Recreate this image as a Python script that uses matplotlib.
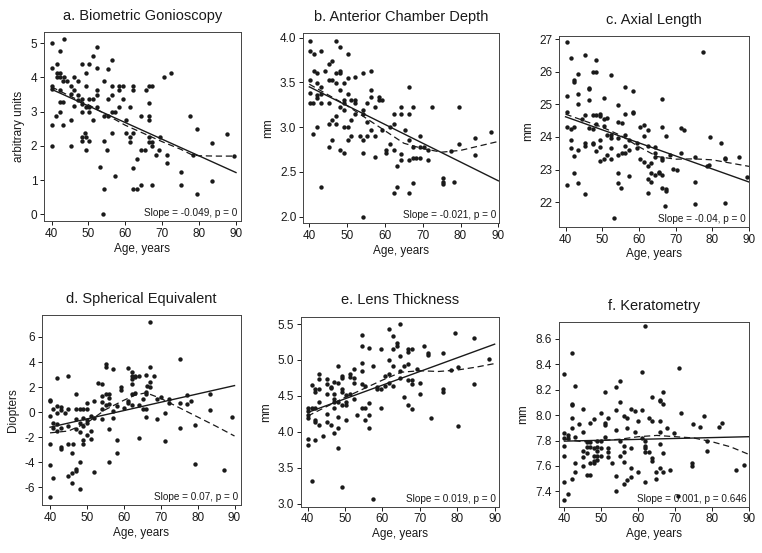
import numpy as np
import matplotlib.pyplot as plt

plt.rcParams['font.family'] = ['Liberation Sans', 'DejaVu Sans']

# ---- a. Biometric Gonioscopy
age_a = [40.2, 40.2, 40.2, 40.2, 40.2, 40.2, 41.4, 41.4, 41.4, 41.2, 42.3, 42.4, 42.3, 42.3, 42.3, 42.3,
         43.3, 43.3, 43.2, 43.2, 43.2, 44.3, 45.2, 45.2, 45.2, 45.2, 46.2, 46.2, 46.2, 47.2, 47.2, 47.3,
         48.2, 48.2, 48.2, 48.2, 48.2, 48.2, 49.2, 49.2, 49.2, 49.0, 49.2, 49.2, 50.2, 50.2, 50.2, 50.2,
         50.2, 51.3, 51.3, 51.3, 52.3, 52.3, 52.3, 52.3, 52.3, 53.2, 54.3, 54.3, 54.3, 54.1, 54.0, 55.4,
         55.4, 55.4, 55.1, 56.3, 56.3, 56.3, 56.3, 56.3, 57.2, 57.2, 58.3, 58.3, 58.3, 59.4, 59.4, 60.2,
         60.2, 61.2, 61.2, 61.2, 62.2, 62.2, 62.2, 62.2, 62.2, 63.1, 63.2, 64.3, 64.3, 64.3, 65.3, 65.5,
         66.3, 66.3, 66.3, 66.3, 66.3, 66.3, 67.3, 67.3, 67.3, 67.3, 68.3, 69.2, 69.4, 70.5, 71.4, 71.4,
         72.5, 77.4, 78.4, 79.4, 75.2, 75.2, 79.3, 83.4, 83.4, 87.5, 89.5]
val_a = [5.0, 4.27, 3.75, 3.65, 2.61, 2.0, 4.4, 4.14, 4.0, 2.88, 4.14, 4.76, 4.0, 3.62, 3.27, 3.0,
         5.13, 4.0, 3.88, 3.27, 2.61, 3.88, 3.75, 3.52, 2.74, 2.0, 4.0, 3.64, 3.15, 3.88, 3.49, 3.34,
         4.4, 3.36, 3.23, 3.0, 2.25, 2.13, 4.14, 3.75, 3.13, 2.37, 2.25, 1.88, 4.4, 3.36, 3.13, 3.0,
         2.13, 4.63, 3.36, 2.74, 4.87, 4.27, 3.62, 3.49, 3.13, 1.37, 3.88, 2.88, 2.13, 0.74, 0.0, 4.24,
         3.36, 2.88, 1.88, 4.5, 3.75, 3.49, 3.0, 2.37, 3.0, 1.12, 3.62, 3.13, 3.75, 3.75, 3.36, 2.74,
         2.37, 3.13, 2.25, 2.12, 3.75, 3.62, 2.37, 1.36, 0.74, 0.74, 1.61, 2.88, 1.87, 0.86, 1.87, 3.62,
         3.75, 3.24, 2.88, 2.74, 2.25, 2.12, 3.75, 2.12, 2.0, 0.86, 1.74, 1.87, 2.25, 4.0, 1.74, 1.49,
         4.12, 2.86, 1.74, 2.49, 1.23, 0.85, 0.6, 2.09, 0.97, 2.34, 1.7]
fit_a = [3.65, 1.22]
smooth_x_a = [40, 45, 50, 55, 60, 65, 70, 75, 78, 80, 85, 90]
smooth_a = [3.72, 3.45, 3.2, 2.9, 2.6, 2.36, 2.12, 1.9, 1.74, 1.71, 1.7, 1.7]

# ---- b. Anterior Chamber Depth
age_b = [40.1, 40.1, 40.1, 40.1, 40.1, 41.0, 41.0, 41.2, 41.2, 42.1, 42.1, 42.1, 42.1, 42.1, 43.2, 43.2,
         43.2, 43.2, 43.0, 44.1, 45.2, 45.2, 45.2, 45.2, 45.2, 46.1, 46.1, 46.1, 46.1, 47.1, 47.1, 47.1,
         47.1, 47.1, 48.2, 48.2, 48.2, 48.2, 48.2, 48.2, 49.1, 49.1, 49.1, 49.1, 49.1, 49.1, 50.2, 50.2,
         50.2, 50.2, 50.2, 51.1, 51.1, 51.1, 52.2, 52.2, 52.2, 52.2, 53.3, 54.3, 54.3, 54.3, 54.3, 54.3,
         54.1, 55.3, 55.3, 55.3, 56.3, 56.3, 56.3, 56.3, 57.3, 57.3, 57.3, 58.3, 58.3, 59.3, 59.3, 60.3,
         60.3, 61.3, 61.3, 62.3, 62.3, 62.3, 62.3, 63.3, 63.3, 64.3, 64.3, 64.3, 64.3, 65.4, 66.3, 66.3,
         66.3, 66.3, 66.3, 67.4, 67.4, 67.4, 67.4, 68.3, 69.3, 69.3, 69.3, 70.3, 71.4, 71.4, 72.5, 75.4,
         75.4, 75.4, 77.6, 78.4, 79.6, 79.6, 83.8, 83.8, 88.0]
val_b = [3.96, 3.85, 3.53, 3.38, 3.27, 3.27, 2.92, 3.82, 3.63, 3.6, 3.49, 3.36, 3.33, 3.0, 3.85, 3.45,
         3.37, 3.27, 2.33, 3.63, 3.71, 3.53, 3.27, 3.04, 2.78, 3.53, 3.74, 3.08, 2.86, 3.96, 3.6, 3.49,
         3.12, 3.04, 3.89, 3.63, 3.6, 3.42, 3.23, 2.74, 3.49, 3.3, 3.27, 3.19, 3.0, 2.71, 3.82, 3.55,
         3.37, 3.0, 2.86, 3.3, 3.08, 2.9, 3.56, 3.3, 3.27, 3.15, 2.9, 3.6, 3.19, 3.15, 2.86, 2.71,
         2.0, 3.27, 3.06, 2.9, 3.63, 3.42, 3.34, 2.97, 3.23, 2.9, 2.67, 3.34, 3.3, 3.3, 2.97, 2.74,
         2.71, 2.81, 3.0, 3.15, 3.04, 2.74, 2.26, 2.56, 2.33, 3.23, 3.15, 2.7, 2.63, 2.97, 3.45, 3.15,
         2.86, 2.63, 2.26, 3.23, 2.78, 2.65, 2.37, 2.65, 2.9, 2.78, 2.65, 2.78, 2.74, 2.63, 3.22, 2.36,
         2.39, 2.43, 2.73, 2.39, 2.81, 3.22, 2.88, 2.69, 2.95]
fit_b = [3.45, 2.40]
smooth_x_b = [40, 45, 50, 55, 60, 65, 70, 75, 80, 85, 90]
smooth_b = [3.48, 3.36, 3.24, 3.1, 2.96, 2.82, 2.76, 2.72, 2.74, 2.79, 2.84]

# ---- c. Axial Length
age_c = [40.5, 40.3, 40.3, 40.3, 40.3, 41.5, 41.5, 41.5, 41.5, 42.4, 42.4, 42.4, 42.4, 42.4, 43.3, 43.3,
         43.3, 43.3, 43.3, 44.4, 45.4, 45.4, 45.4, 45.4, 45.2, 46.4, 46.4, 46.4, 46.4, 47.4, 47.4, 47.4,
         47.4, 47.4, 48.4, 48.4, 48.4, 48.4, 48.4, 49.4, 49.4, 49.4, 49.4, 49.4, 50.4, 50.4, 50.4, 50.4,
         51.4, 51.4, 51.4, 52.4, 52.4, 52.4, 52.4, 52.4, 53.2, 54.3, 54.3, 54.3, 54.3, 54.3, 54.3, 55.4,
         55.4, 55.2, 56.3, 56.3, 56.3, 56.3, 56.3, 57.3, 57.3, 57.2, 58.4, 58.4, 58.4, 59.4, 59.4, 60.4,
         60.4, 61.4, 61.4, 61.4, 62.4, 62.4, 62.4, 62.4, 62.4, 63.4, 63.4, 63.4, 64.4, 64.4, 64.4, 64.4,
         65.4, 65.4, 66.4, 66.4, 66.4, 66.4, 66.4, 66.4, 67.4, 67.4, 67.4, 67.1, 68.4, 69.4, 70.4, 71.4,
         71.4, 72.3, 75.4, 75.4, 75.4, 77.4, 78.5, 79.2, 79.4, 82.4, 83.4, 83.4, 83.4, 87.3, 89.4]
val_c = [26.9, 25.25, 24.76, 24.32, 22.53, 26.43, 24.24, 23.91, 23.66, 25.75, 25.7, 24.32, 23.42, 22.89,
         25.94, 25.32, 25.02, 23.61, 22.6, 24.56, 26.52, 24.68, 23.81, 23.71, 22.25, 25.5, 25.12, 24.27,
         25.47, 25.98, 24.68, 24.24, 23.83, 23.79, 26.37, 25.99, 24.68, 24.4, 23.58, 24.7, 24.63, 23.91,
         23.68, 23.27, 25.19, 24.56, 24.35, 23.32, 24.58, 24.07, 23.45, 25.91, 24.07, 23.98, 23.66, 23.32,
         21.51, 24.99, 24.47, 23.96, 23.45, 22.89, 22.58, 24.44, 23.5, 22.45, 25.53, 24.7, 24.07, 23.71,
         23.5, 23.91, 23.61, 22.79, 25.42, 24.78, 24.73, 23.83, 23.66, 24.32, 23.32, 24.37, 24.03, 23.23,
         24.22, 23.71, 23.11, 22.71, 22.28, 23.19, 22.89, 22.61, 23.68, 23.5, 23.4, 22.84, 22.94, 22.89,
         25.16, 24.32, 23.37, 23.28, 22.84, 22.45, 24.03, 22.4, 22.36, 21.89, 23.45, 23.02, 22.99, 24.28,
         23.5, 24.22, 23.4, 22.63, 21.95, 26.6, 23.11, 23.13, 24.0, 23.83, 23.36, 23.33, 21.99, 23.4, 22.76]
fit_c = [24.62, 22.62]
smooth_x_c = [40, 45, 50, 55, 60, 65, 70, 75, 80, 85, 90]
smooth_c = [24.7, 24.5, 24.3, 24.05, 23.7, 23.4, 23.32, 23.33, 23.3, 23.2, 23.1]

# ---- d. Spherical Equivalent
age_d = [40.0, 40.0, 40.0, 40.0, 40.0, 40.0, 40.9, 40.9, 40.9, 40.9, 42.0, 42.0, 42.0, 42.0, 42.0, 42.9,
         42.9, 42.9, 42.9, 42.9, 44.0, 45.0, 45.0, 45.0, 45.0, 45.0, 45.9, 45.9, 45.9, 46.1, 47.1, 47.1,
         47.1, 47.1, 47.1, 47.1, 48.0, 48.0, 48.0, 48.0, 48.0, 49.0, 49.0, 49.0, 49.0, 49.0, 50.0, 50.0,
         50.0, 50.0, 50.0, 51.0, 51.0, 51.0, 52.0, 52.0, 52.0, 53.1, 54.0, 54.0, 54.0, 54.0, 54.0, 55.1,
         55.1, 55.1, 55.1, 56.1, 56.1, 56.1, 56.1, 56.1, 57.2, 57.2, 57.2, 58.1, 58.1, 58.1, 59.2, 59.2,
         60.1, 61.1, 61.1, 61.1, 62.2, 62.2, 62.2, 62.2, 62.2, 62.2, 63.1, 63.1, 63.1, 64.2, 64.2, 64.2,
         65.2, 65.3, 66.1, 66.1, 66.1, 66.1, 66.1, 66.2, 67.1, 67.1, 67.1, 67.1, 68.1, 69.1, 69.1, 70.2,
         71.2, 71.2, 72.3, 72.3, 75.3, 75.3, 75.3, 77.2, 77.2, 78.2, 79.2, 79.2, 83.3, 83.3, 87.2, 89.4]
val_d = [1.0, 0.88, -0.27, -2.5, -4.18, -6.76, 0.27, -0.85, -1.25, -5.27, 2.74, 0.53, -0.05, -0.98, -1.52,
         0.4, 0.21, -1.25, -2.77, -2.9, -0.05, 2.87, 0.27, -1.12, -2.5, -5.1, -4.84, -5.64, -3.24, -2.5,
         1.41, 0.27, -0.53, -1.38, -4.52, -4.65, 0.27, -0.85, -1.54, -3.99, -6.12, 0.27, -0.45, -2.18,
         -2.5, -1.12, 0.74, 0.27, -0.59, -0.85, -1.78, -0.32, -1.52, -2.1, 0.88, -0.45, -4.8, 2.34, 2.26,
         1.28, 0.8, 0.27, -0.53, 3.88, 3.62, 1.41, 0.61, 1.41, 1.14, 0.66, -1.38, -3.94, 3.48, 0.08,
         -0.45, -3.24, -2.18, 0.48, 1.99, 1.76, 0.35, 3.51, 0.93, 0.74, 3.19, 2.87, 2.61, 2.21, 1.41,
         0.61, 2.87, 2.79, 1.49, 2.87, 0.61, -2.05, 0.27, 1.09, 2.93, 1.6, 1.41, 0.27, -0.4, 2.07, 7.18,
         3.59, 2.39, 1.99, 2.87, -0.53, 1.09, 1.22, -0.05, -2.31, 1.06, 0.74, 4.2, 0.74, -1.3, 1.33,
         0.66, 0.93, -1.06, -4.1, 1.41, 0.16, -4.57, -0.35]
fit_d = [-1.2, 2.12]
smooth_x_d = [40, 45, 50, 55, 60, 63, 66, 70, 75, 80, 85, 90]
smooth_d = [-1.65, -1.5, -0.85, 0.2, 0.95, 1.35, 1.55, 1.1, 0.36, -0.38, -1.12, -1.9]

# ---- e. Lens Thickness
age_e = [40.0, 40.0, 40.0, 40.0, 40.0, 40.0, 41.1, 41.1, 41.1, 42.0, 42.0, 42.0, 42.0, 42.0, 42.0, 43.1,
         43.1, 43.1, 43.1, 43.1, 44.0, 45.2, 45.2, 45.2, 45.2, 45.2, 46.2, 46.2, 46.2, 47.1, 47.1, 47.1,
         47.1, 47.1, 47.1, 48.2, 48.2, 48.2, 48.2, 48.2, 48.2, 49.1, 49.1, 49.1, 49.1, 49.1, 49.1, 50.2,
         50.2, 50.2, 50.2, 51.4, 51.4, 51.4, 52.3, 52.3, 52.3, 52.3, 53.3, 54.4, 54.4, 54.4, 54.4, 54.4,
         54.4, 55.4, 55.4, 55.4, 56.4, 56.4, 56.4, 56.4, 57.5, 57.5, 58.5, 58.5, 59.6, 59.6, 59.6, 60.6,
         60.6, 61.8, 61.8, 61.8, 61.8, 62.7, 62.7, 62.7, 62.7, 63.8, 63.8, 64.7, 64.7, 64.7, 64.7, 65.8,
         65.8, 66.8, 66.8, 66.8, 66.8, 66.8, 67.9, 67.9, 67.9, 67.9, 69.2, 70.0, 70.0, 71.1, 72.1, 72.1,
         73.0, 76.2, 76.2, 76.2, 78.2, 79.4, 80.3, 80.1, 84.5, 84.4, 88.6]
val_e = [4.33, 4.29, 4.24, 4.19, 3.9, 3.82, 4.65, 4.33, 3.31, 4.33, 4.59, 4.55, 4.17, 4.14, 3.89, 4.8,
         4.74, 4.6, 4.41, 4.1, 3.94, 4.73, 4.66, 4.53, 4.25, 4.13, 4.63, 4.61, 4.1, 4.69, 4.53, 4.45,
         4.41, 4.33, 3.98, 4.92, 4.68, 4.41, 4.21, 4.06, 3.77, 4.78, 4.75, 4.59, 4.55, 4.38, 3.23, 4.51,
         4.41, 4.38, 4.17, 4.8, 4.76, 4.53, 4.88, 4.75, 4.68, 4.45, 4.24, 5.35, 5.19, 4.96, 4.84, 4.66,
         4.33, 4.64, 4.33, 4.16, 5.17, 4.4, 4.24, 4.06, 4.92, 3.07, 4.63, 4.6, 5.15, 4.6, 4.33, 4.78,
         4.64, 5.43, 5.0, 4.68, 4.81, 5.34, 5.15, 4.91, 4.64, 5.24, 5.19, 5.5, 5.06, 4.85, 4.75, 4.49,
         4.91, 5.15, 5.11, 4.95, 4.72, 4.37, 5.15, 4.72, 4.67, 4.32, 4.87, 4.68, 4.52, 5.19, 5.1, 5.07,
         4.19, 5.1, 4.6, 4.56, 4.86, 5.38, 4.9, 4.08, 5.3, 4.67, 5.02]
fit_e = [4.27, 5.22]
smooth_x_e = [40, 45, 50, 55, 60, 65, 70, 75, 80, 85, 90]
smooth_e = [4.22, 4.35, 4.48, 4.6, 4.72, 4.83, 4.85, 4.84, 4.86, 4.9, 4.95]

# ---- f. Keratometry
age_f = [40.0, 40.0, 40.0, 40.0, 40.0, 40.0, 39.9, 40.9, 40.9, 40.9, 42.0, 42.0, 42.0, 42.0, 42.0, 42.0,
         42.9, 42.9, 42.9, 42.9, 44.0, 44.9, 44.9, 44.9, 44.9, 44.9, 46.0, 46.0, 46.0, 46.0, 46.9, 46.9,
         46.9, 46.9, 46.9, 48.0, 48.0, 48.0, 48.0, 48.0, 48.9, 48.9, 48.9, 48.9, 48.9, 49.9, 49.9, 49.9,
         49.9, 50.9, 50.9, 50.9, 50.9, 51.9, 51.9, 51.9, 51.9, 52.9, 53.9, 53.9, 53.9, 53.9, 53.9, 55.0,
         55.0, 55.0, 55.0, 56.0, 56.0, 56.0, 56.0, 56.0, 57.0, 57.0, 57.0, 58.0, 58.0, 58.0, 58.0, 59.0,
         59.0, 60.0, 60.0, 60.9, 60.9, 60.9, 61.9, 61.9, 61.9, 61.9, 61.9, 61.9, 62.9, 62.9, 63.8, 63.8,
         63.8, 63.8, 64.8, 64.8, 65.8, 65.8, 65.8, 65.8, 65.8, 65.8, 66.8, 66.8, 66.8, 66.8, 67.8, 68.6,
         69.6, 71.0, 70.8, 71.7, 74.7, 74.6, 74.6, 76.8, 77.8, 78.6, 78.6, 81.8, 82.7, 86.6, 88.6]
val_f = [8.32, 7.86, 7.82, 7.76, 7.68, 7.47, 7.33, 7.84, 7.82, 7.38, 8.49, 8.09, 8.08, 7.98, 7.9, 7.5,
         8.23, 7.83, 7.62, 7.55, 7.93, 8.05, 7.87, 7.72, 7.67, 7.6, 7.79, 7.75, 7.7, 7.53, 7.94, 7.79,
         7.75, 7.62, 7.53, 7.97, 7.74, 7.68, 7.64, 7.62, 7.8, 7.75, 7.72, 7.68, 7.65, 8.02, 7.8, 7.74,
         7.68, 8.18, 7.94, 7.92, 7.83, 7.98, 7.74, 7.71, 7.67, 7.62, 8.22, 8.04, 7.88, 7.52, 7.4, 8.27,
         8.1, 7.8, 7.68, 7.99, 7.76, 7.71, 7.63, 7.46, 7.98, 7.9, 7.49, 8.05, 7.74, 7.58, 7.51, 8.03,
         7.87, 7.95, 7.55, 8.34, 8.04, 7.82, 8.7, 7.8, 7.76, 7.74, 7.71, 7.47, 7.98, 7.71, 7.95, 8.14,
         7.66, 7.64, 7.55, 7.5, 8.12, 8.11, 7.95, 7.87, 7.77, 7.58, 8.18, 8.09, 7.7, 7.55, 7.9, 7.57,
         7.86, 8.37, 7.36, 8.02, 7.93, 7.62, 7.6, 7.91, 7.99, 7.8, 7.72, 7.91, 7.94, 7.57, 7.61]
fit_f = [7.795, 7.83]
smooth_x_f = [40, 45, 50, 55, 60, 65, 70, 75, 80, 85, 90]
smooth_f = [7.81, 7.79, 7.8, 7.81, 7.83, 7.84, 7.83, 7.82, 7.79, 7.75, 7.69]

titles = ['a. Biometric Gonioscopy', 'b. Anterior Chamber Depth', 'c. Axial Length',
          'd. Spherical Equivalent', 'e. Lens Thickness', 'f. Keratometry']
ylabels = ['arbitrary units', 'mm', 'mm', 'Diopters', 'mm', 'mm']
slope_text = ['Slope = -0.049, p = 0', 'Slope = -0.021, p = 0', 'Slope = -0.04, p = 0',
              'Slope = 0.07, p = 0', 'Slope = 0.019, p = 0', 'Slope = 0.001, p = 0.646']
fit_x = [40, 90]

panels = [
    (age_a, val_a, fit_a, smooth_x_a, smooth_a),
    (age_b, val_b, fit_b, smooth_x_b, smooth_b),
    (age_c, val_c, fit_c, smooth_x_c, smooth_c),
    (age_d, val_d, fit_d, smooth_x_d, smooth_d),
    (age_e, val_e, fit_e, smooth_x_e, smooth_e),
    (age_f, val_f, fit_f, smooth_x_f, smooth_f),
]

# axes boxes (left, bottom, width, height) in figure fractions
boxes = [
    (0.058, 0.600, 0.258, 0.342),
    (0.398, 0.597, 0.257, 0.343),
    (0.734, 0.590, 0.249, 0.344),
    (0.055, 0.087, 0.261, 0.343),
    (0.395, 0.084, 0.260, 0.343),
    (0.733, 0.084, 0.250, 0.333),
]
xlims = [(38.0, 91.3), (38.4, 90.2), (38.3, 90.0), (37.8, 91.7), (38.2, 91.2), (38.4, 89.8)]
ylims = [(-0.2, 5.32), (1.93, 4.05), (21.25, 27.08), (-7.39, 7.73), (2.96, 5.6), (7.28, 8.73)]
yticks = [np.arange(0, 6, 1), np.arange(2.0, 4.01, 0.5), np.arange(22, 28, 1),
          np.arange(-6, 7, 2), np.arange(3.0, 5.51, 0.5), np.arange(7.4, 8.61, 0.2)]
yfmt = ['{:.0f}', '{:.1f}', '{:.0f}', '{:.0f}', '{:.1f}', '{:.1f}']

ink = '#1a1a1a'
fig = plt.figure(figsize=(7.62, 5.53), dpi=100)

for i, (ages, vals, fit, sx, sy) in enumerate(panels):
    ax = fig.add_axes(boxes[i])
    ax.scatter(ages, vals, s=10, color=ink, linewidths=0, zorder=3)
    ax.plot(fit_x, fit, color=ink, lw=1.0, zorder=2)
    ax.plot(sx, sy, color=ink, lw=0.9, ls=(0, (5, 3)), zorder=2)
    ax.set_xlim(*xlims[i])
    ax.set_ylim(*ylims[i])
    ax.set_xticks([40, 50, 60, 70, 80, 90])
    ax.set_yticks(yticks[i])
    ax.set_yticklabels([yfmt[i].format(v) for v in yticks[i]])
    ax.tick_params(direction='out', length=3, width=0.7, labelsize=8.5, colors=ink, pad=2)
    for sp in ax.spines.values():
        sp.set_linewidth(0.7)
        sp.set_color('#444444')
    ax.set_title(titles[i], fontsize=10.5, color=ink, pad=9)
    ax.set_xlabel('Age, years', fontsize=8.5, color=ink, labelpad=2)
    ax.set_ylabel(ylabels[i], fontsize=8.5, color=ink, labelpad=4)
    ax.text(0.985, 0.015, slope_text[i], transform=ax.transAxes, ha='right', va='bottom',
            fontsize=7.2, color=ink)

fig.savefig('out.png', dpi=100)
